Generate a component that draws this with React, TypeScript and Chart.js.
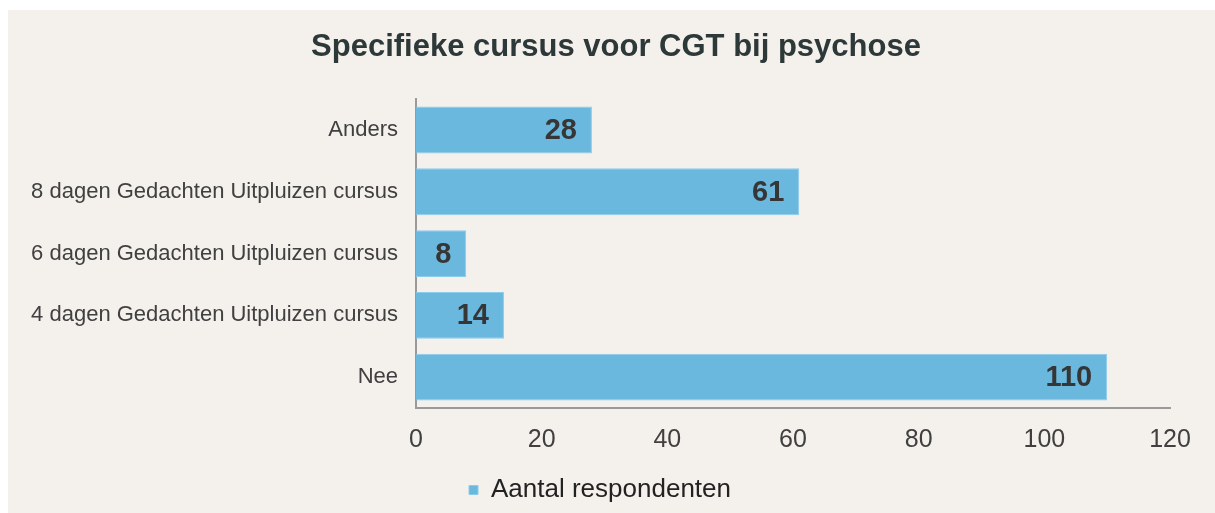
import React, { useEffect, useRef } from "react";
import { Chart, registerables } from "chart.js";

Chart.register(...registerables);

const titleText = "Specifieke cursus voor CGT bij psychose";
const categories = [
  "Anders",
  "8 dagen Gedachten Uitpluizen cursus",
  "6 dagen Gedachten Uitpluizen cursus",
  "4 dagen Gedachten Uitpluizen cursus",
  "Nee",
];
const values = [28, 61, 8, 14, 110];
const seriesLabel = "Aantal respondenten";
const xMin = 0;
const xMax = 120;
const xStep = 20;

const SANS = "'Liberation Sans', Arial, sans-serif";

const valueLabels = {
  id: "valueLabels",
  afterDatasetsDraw(chart: any) {
    const ctx = chart.ctx;
    const meta = chart.getDatasetMeta(0);
    ctx.save();
    ctx.font = `bold 29px ${SANS}`;
    ctx.fillStyle = "#363636";
    ctx.textAlign = "right";
    ctx.textBaseline = "middle";
    meta.data.forEach((bar: any, i: number) => {
      ctx.fillText(String(chart.data.datasets[0].data[i]), bar.x - 15, bar.y + 1);
    });
    ctx.restore();
  },
};

// nudge title and legend horizontally to match the reference centring
const boxShift = {
  id: "boxShift",
  afterLayout(chart: any) {
    const t = chart.titleBlock;
    if (t) {
      t.left += 22;
      t.right += 22;
    }
    const l = chart.legend;
    if (l) {
      l.left += 6;
      l.right += 6;
    }
  },
};

export default function App() {
  const ref = useRef<HTMLCanvasElement>(null);
  useEffect(() => {
    if (!ref.current) return;
    const chart = new Chart(ref.current, {
      type: "bar",
      data: {
        labels: categories,
        datasets: [
          {
            label: seriesLabel,
            data: values,
            backgroundColor: "#6bb8df",
            borderColor: "#8ccbea",
            borderWidth: 1,
            categoryPercentage: 1,
            barPercentage: 0.76,
          },
        ],
      },
      options: {
        indexAxis: "y",
        animation: false,
        responsive: false,
        maintainAspectRatio: false,
        layout: { padding: { left: 10, right: 45, top: 0, bottom: 0 } },
        plugins: {
          title: {
            display: true,
            text: titleText,
            color: "#2d3838",
            font: { family: SANS, size: 31, weight: "bold" },
            padding: { top: 19, bottom: 33 },
          },
          legend: {
            display: true,
            position: "bottom",
            labels: {
              color: "#222",
              font: { family: SANS, size: 26 },
              boxWidth: 9,
              boxHeight: 9,
              padding: 5,
            },
          },
          tooltip: { enabled: false },
        },
        scales: {
          x: {
            type: "linear",
            min: xMin,
            max: xMax,
            grid: { display: false, drawTicks: false },
            border: { display: true, color: "#9a9a9a", width: 2 },
            ticks: {
              stepSize: xStep,
              color: "#404040",
              font: { family: SANS, size: 25 },
              padding: 17,
            },
          },
          y: {
            grid: { display: false, drawTicks: false },
            border: { display: true, color: "#9a9a9a", width: 2 },
            ticks: {
              color: "#404040",
              font: { family: SANS, size: 22 },
              padding: 18,
            },
            afterFit(scale: any) {
              scale.width = 398;
            },
          },
        },
      },
      plugins: [valueLabels, boxShift],
    });
    return () => chart.destroy();
  }, []);
  return (
    <div style={{ position: "fixed", left: 0, top: 0, width: 1215, height: 513, background: "#ffffff" }}>
      <div style={{ position: "absolute", left: 8, top: 10, width: 1207, height: 503, background: "#f4f1ed" }}>
        <canvas ref={ref} width={1207} height={503} style={{ display: "block", width: 1207, height: 503 }} />
      </div>
    </div>
  );
}
